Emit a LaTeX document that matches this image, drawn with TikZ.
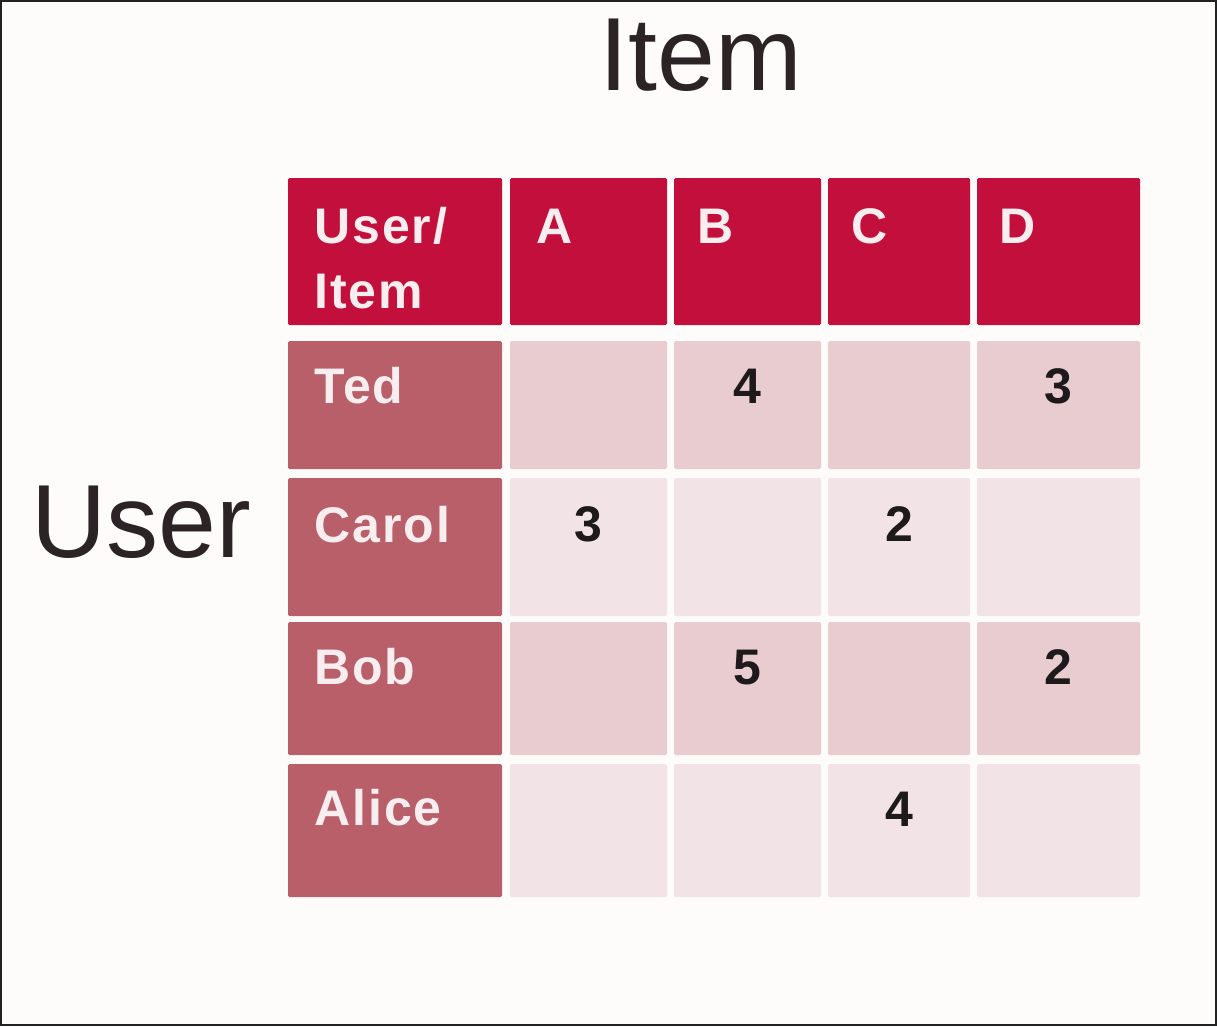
\documentclass[tikz,border=0pt]{standalone}
\usepackage{fontspec}
\setmainfont{Liberation Sans}
\newfontfamily\cellfont[LetterSpace=4]{Liberation Sans}
\definecolor{hdr}{HTML}{C30F3B}
\definecolor{lab}{HTML}{B85F6A}
\definecolor{dark}{HTML}{E9CCD0}
\definecolor{light}{HTML}{F2E3E6}
\definecolor{bg}{HTML}{FDFCFB}
\definecolor{ttl}{HTML}{2B2326}
\definecolor{num}{HTML}{1E1A1B}
\definecolor{frame}{HTML}{222222}
\definecolor{wtext}{HTML}{F8EEF0}
\newcommand\mycell[6]{\node[cell,fill=#2,minimum width=#5pt,minimum height=#6pt] (#1) at (#3,#4) {};}
\begin{document}
\begin{tikzpicture}[x=1pt,y=-1pt,
  cell/.style={rectangle,draw=none,inner sep=0pt,outer sep=0pt,anchor=north west,rounded corners=1.5pt},
  titletext/.style={inner sep=0pt,anchor=base,text=ttl,font=\fontsize{104}{116}\selectfont},
  lbltext/.style={inner sep=0pt,anchor=base west,text=wtext,font=\cellfont\fontsize{50}{58}\selectfont\bfseries},
  numtext/.style={inner sep=0pt,anchor=base,text=num,font=\fontsize{50}{58}\selectfont\bfseries}]
\useasboundingbox (0,0) rectangle (1217,1026);
\fill[bg] (0,0) rectangle (1217,1026);
\draw[frame,line width=2pt] (1,1) rectangle (1216,1025);
% titles
\node[titletext] (item) at (701,90) {Item};
\node[titletext] (user) at (141,557) {User};
% header row
\mycell{h0}{hdr}{288}{178}{214}{147}
\mycell{h1}{hdr}{510}{178}{157}{147}
\mycell{h2}{hdr}{674}{178}{147}{147}
\mycell{h3}{hdr}{828}{178}{142}{147}
\mycell{h4}{hdr}{977}{178}{163}{147}
% Ted
\mycell{r1c0}{lab}{288}{341}{214}{128}
\mycell{r1c1}{dark}{510}{341}{157}{128}
\mycell{r1c2}{dark}{674}{341}{147}{128}
\mycell{r1c3}{dark}{828}{341}{142}{128}
\mycell{r1c4}{dark}{977}{341}{163}{128}
% Carol
\mycell{r2c0}{lab}{288}{478}{214}{138}
\mycell{r2c1}{light}{510}{478}{157}{138}
\mycell{r2c2}{light}{674}{478}{147}{138}
\mycell{r2c3}{light}{828}{478}{142}{138}
\mycell{r2c4}{light}{977}{478}{163}{138}
% Bob
\mycell{r3c0}{lab}{288}{622}{214}{133}
\mycell{r3c1}{dark}{510}{622}{157}{133}
\mycell{r3c2}{dark}{674}{622}{147}{133}
\mycell{r3c3}{dark}{828}{622}{142}{133}
\mycell{r3c4}{dark}{977}{622}{163}{133}
% Alice
\mycell{r4c0}{lab}{288}{764}{214}{133}
\mycell{r4c1}{light}{510}{764}{157}{133}
\mycell{r4c2}{light}{674}{764}{147}{133}
\mycell{r4c3}{light}{828}{764}{142}{133}
\mycell{r4c4}{light}{977}{764}{163}{133}
% header texts
\node[lbltext] (th0a) at ([shift={(26,65)}]h0.north west) {User/};
\node[lbltext] (th0b) at ([shift={(26,130)}]h0.north west) {Item};
\node[lbltext] (th1) at ([shift={(26,65)}]h1.north west) {A};
\node[lbltext] (th2) at ([shift={(23,65)}]h2.north west) {B};
\node[lbltext] (th3) at ([shift={(23,65)}]h3.north west) {C};
\node[lbltext] (th4) at ([shift={(22,65)}]h4.north west) {D};
% row labels
\node[lbltext] (tr1) at ([shift={(26,62)}]r1c0.north west) {Ted};
\node[lbltext] (tr2) at ([shift={(26,64)}]r2c0.north west) {Carol};
\node[lbltext] (tr3) at ([shift={(26,62)}]r3c0.north west) {Bob};
\node[lbltext] (tr4) at ([shift={(26,61)}]r4c0.north west) {Alice};
% ratings
\node[numtext] (n1b) at ([shift={(0,62)}]r1c2.north) {4};
\node[numtext] (n1d) at ([shift={(0,62)}]r1c4.north) {3};
\node[numtext] (n2a) at ([shift={(0,63)}]r2c1.north) {3};
\node[numtext] (n2c) at ([shift={(0,63)}]r2c3.north) {2};
\node[numtext] (n3b) at ([shift={(0,62)}]r3c2.north) {5};
\node[numtext] (n3d) at ([shift={(0,62)}]r3c4.north) {2};
\node[numtext] (n4c) at ([shift={(0,62)}]r4c3.north) {4};
\end{tikzpicture}
\end{document}
